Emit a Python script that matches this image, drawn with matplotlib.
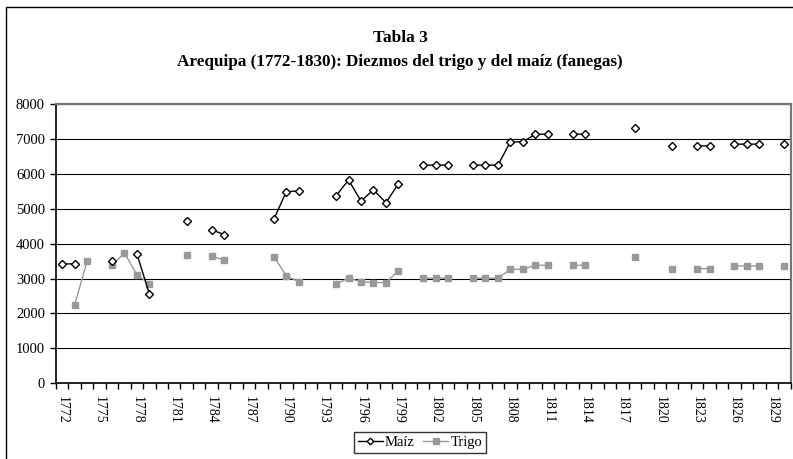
import numpy as np
import matplotlib
matplotlib.use("Agg")
import matplotlib.pyplot as plt
from matplotlib.patches import Rectangle

nan = np.nan
years = list(range(1772, 1831))
maiz = [3420, 3420, nan, nan, 3510, nan, 3705, 2560, nan, nan,
        4660, nan, 4400, 4260, nan, nan, nan, 4700, 5490, 5510,
        nan, nan, 5370, 5825, 5220, 5540, 5175, 5710, nan, 6250,
        6250, 6250, nan, 6250, 6250, 6250, 6915, 6915, 7135, 7135,
        nan, 7135, 7135, nan, nan, nan, 7300, nan, nan, 6800,
        nan, 6800, 6800, nan, 6850, 6850, 6850, nan, 6850]
trigo = [nan, 2250, 3500, nan, 3380, 3730, 3110, 2850, nan, nan,
         3670, nan, 3640, 3530, nan, nan, nan, 3630, 3075, 2910,
         nan, nan, 2845, 3010, 2910, 2885, 2885, 3220, nan, 3010,
         3010, 3010, nan, 3010, 3010, 3010, 3265, 3265, 3380, 3380,
         nan, 3380, 3380, nan, nan, nan, 3620, nan, nan, 3285,
         nan, 3285, 3285, nan, 3360, 3360, 3360, nan, 3360]
yticks = [0, 1000, 2000, 3000, 4000, 5000, 6000, 7000, 8000]
title1 = "Tabla 3"
title2 = "Arequipa (1772-1830): Diezmos del trigo y del maíz (fanegas)"

plt.rcParams['font.family'] = ['Liberation Serif', 'DejaVu Serif']

W, H = 793, 459
fig = plt.figure(figsize=(W / 100, H / 100), dpi=100)
ax = fig.add_axes([56 / W, 1 - 383.3 / H, (790.5 - 56) / W, (383.3 - 104) / H])

x = np.arange(len(years))
ax.plot(x, trigo, color='#999999', lw=1.0, marker='s', markersize=5,
        markerfacecolor='#999999', markeredgecolor='#999999', label='Trigo', zorder=3)
ax.plot(x, maiz, color='black', lw=1.0, marker='D', markersize=4.2,
        markerfacecolor='white', markeredgecolor='black', markeredgewidth=1.0,
        label='Maíz', zorder=4)

ax.set_xlim(-0.5, len(years) - 0.5)
ax.set_ylim(0, 8000)
ax.set_yticks(yticks)
ax.set_yticklabels([str(v) for v in yticks], fontsize=10.5)
ax.yaxis.grid(True, color='black', lw=0.8)
ax.set_axisbelow(True)

lab_pos = x[::3]
ax.set_xticks(lab_pos)
ax.set_xticklabels([str(years[i]) for i in lab_pos], rotation=-90, fontsize=10)
ax.set_xticks(np.arange(-0.5, len(years)), minor=True)
ax.tick_params(axis='x', which='major', length=0, pad=9)
ax.tick_params(axis='x', which='minor', length=4, width=1, direction='out', color='black')
ax.tick_params(axis='y', length=4, width=1, direction='out', pad=4)

for s in ['left', 'bottom']:
    ax.spines[s].set_color('black')
    ax.spines[s].set_linewidth(1.2)
for s in ['top', 'right']:
    ax.spines[s].set_color('#777777')
    ax.spines[s].set_linewidth(1.6)

fig.text(400 / W, 1 - 38 / H, title1, ha='center', va='center', fontsize=12.5, fontweight='bold')
fig.text(400 / W, 1 - 62 / H, title2, ha='center', va='center', fontsize=12.3, fontweight='bold')

handles, labels = ax.get_legend_handles_labels()
leg = fig.legend(handles[::-1], labels[::-1], loc='center', bbox_to_anchor=(420 / W, 1 - 442.5 / H),
                 ncol=2, fontsize=10.5, frameon=True, fancybox=False, edgecolor='black',
                 handlelength=1.7, handletextpad=0.15, columnspacing=0.6, borderpad=0.25,
                 borderaxespad=0, markerscale=0.8)
leg.get_frame().set_linewidth(1.0)

fig.add_artist(Rectangle((6 / W, -0.1), 1.2, (1 - 7 / H) + 0.1, transform=fig.transFigure,
                         fill=False, edgecolor='black', lw=1.0))

fig.savefig('out.png', dpi=100)
